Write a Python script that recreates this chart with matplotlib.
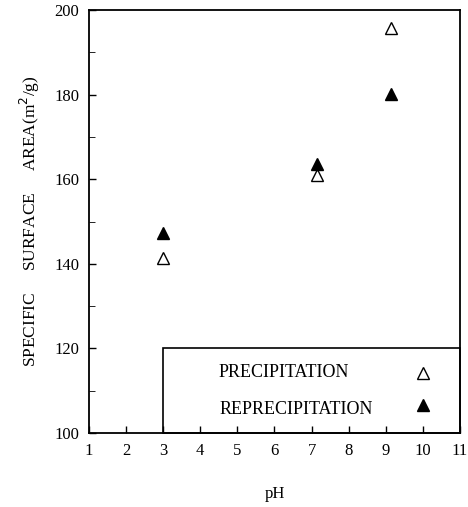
import matplotlib
matplotlib.use('Agg')
import matplotlib.pyplot as plt
from matplotlib.patches import Rectangle

plt.rcParams['font.family'] = ['Liberation Serif', 'DejaVu Serif']

# data
ph_precip = [3.0, 7.15, 9.15]
area_precip = [141.5, 161.0, 195.7]
ph_reprecip = [3.0, 7.15, 9.15]
area_reprecip = [147.3, 163.5, 180.2]

x_ticks = list(range(1, 12))
y_ticks = [100, 120, 140, 160, 180, 200]

fig = plt.figure(figsize=(4.68, 5.07), dpi=100)
ax = fig.add_axes([0.190, 0.146, 0.793, 0.834])

ax.plot(ph_precip, area_precip, linestyle='none', marker='^', ms=9,
        mfc='white', mec='black', mew=1.0, clip_on=False)
ax.plot(ph_reprecip, area_reprecip, linestyle='none', marker='^', ms=9,
        mfc='black', mec='black', clip_on=False)

ax.set_xlim(1, 11)
ax.set_ylim(100, 200)
ax.set_xticks(x_ticks)
ax.set_yticks(y_ticks)
ax.set_yticks(range(110, 200, 20), minor=True)
ax.tick_params(direction='in', labelsize=12, length=5, width=1.0)
ax.tick_params(which='minor', direction='in', length=4)
ax.tick_params(axis='x', pad=7)
ax.tick_params(axis='y', pad=7)
for s in ax.spines.values():
    s.set_linewidth(1.3)

ax.set_xlabel('pH', fontsize=12, labelpad=20)
ax.set_ylabel('SPECIFIC     SURFACE     AREA(m$^2$/g)', fontsize=12.5, labelpad=9)

# legend box in the lower right corner
ax.add_patch(Rectangle((3, 100), 8, 20, fill=False, edgecolor='black', lw=1.2, clip_on=False))
ax.text(4.48, 114.4, 'PRECIPITATION', fontsize=13, va='center')
ax.text(4.53, 105.6, 'REPRECIPITATION', fontsize=13, va='center')
ax.plot([10], [114.2], marker='^', ms=9, mfc='white', mec='black', mew=1.0)
ax.plot([10], [106.6], marker='^', ms=9, mfc='black', mec='black')

fig.savefig('out.png', dpi=100)
